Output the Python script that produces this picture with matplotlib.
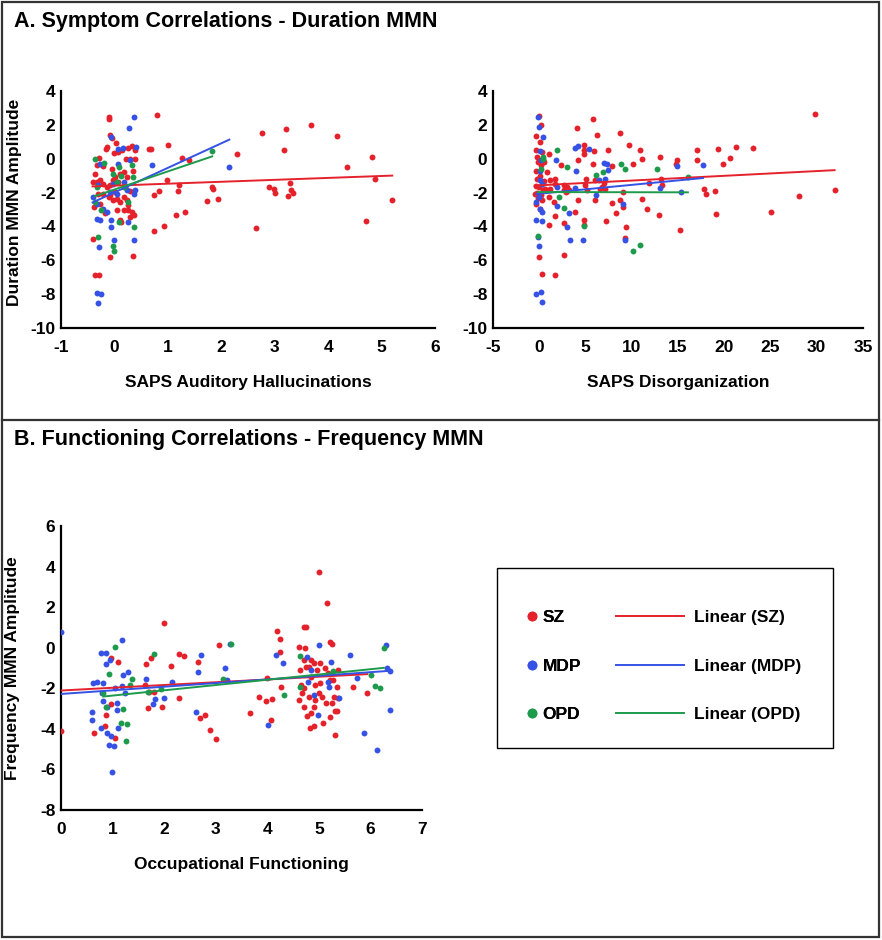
import numpy as np
import matplotlib
matplotlib.use('Agg')
import matplotlib.pyplot as plt
from matplotlib.lines import Line2D
from matplotlib.patches import Rectangle

plt.rcParams['font.family'] = ['Liberation Sans', 'DejaVu Sans']
plt.rcParams['font.weight'] = 'bold'

groups = ['SZ', 'MDP', 'OPD']
colors = {'SZ': '#e5212b', 'MDP': '#3552e4', 'OPD': '#1e9a4c'}

# ---- A, left: SAPS auditory hallucinations vs duration MMN
aud_sz = [(-0.10, 2.46), (-0.10, 2.33), (-0.08, 1.38), (-0.04, 1.24), (0.03, 0.92), (-0.16, 0.59),
          (-0.13, 0.67), (-0.01, 0.33), (0.06, 0.40), (0.14, 0.50), (0.26, 0.65), (0.32, 0.77),
          (0.38, 0.50), (-0.33, -0.35), (-0.28, 0.05), (-0.36, -0.88), (-0.27, -1.27), (-0.41, -1.37),
          (-0.32, -1.37), (-0.21, -1.47), (-0.14, -1.67), (-0.08, -1.57), (-0.02, -1.27), (0.01, -1.08),
          (0.06, -1.37), (0.11, -0.88), (0.18, -0.78), (0.23, -1.08), (0.21, 0.0), (0.29, 0.0),
          (0.38, 0.0), (-0.30, -2.06), (-0.21, -2.06), (-0.11, -2.26), (-0.02, -2.46), (0.04, -2.36),
          (0.11, -2.56), (0.17, -2.26), (0.23, -2.46), (0.26, -2.75), (-0.39, -2.85), (-0.27, -2.65),
          (-0.08, -2.16), (0.01, -1.96), (0.17, -3.05), (0.26, -3.05), (0.32, -3.15), (0.36, -3.34),
          (0.29, -3.44), (0.11, -3.64), (0.12, -3.74), (-0.40, -4.72), (-0.09, -5.82), (0.34, -5.72),
          (-0.36, -6.89), (-0.28, -6.85), (-0.22, -0.45), (0.35, -0.70), (-0.05, -0.60), (0.20, -1.70),
          (0.30, -1.90), (-0.18, -3.20), (0.05, -3.00),
          (0.79, 2.6), (0.65, 0.55), (0.69, 0.6), (1.01, 0.8), (0.98, -1.24), (0.84, -1.9),
          (0.74, -2.15), (1.2, -1.55), (1.19, -1.9), (1.26, 0.02), (1.40, -0.1), (1.15, -3.3),
          (1.32, -3.15), (0.93, -3.95), (0.74, -4.25), (1.82, -1.67), (1.85, -1.8), (1.74, -2.48),
          (1.93, -2.4), (2.30, 0.28), (2.77, 1.5), (2.65, -4.1), (3.21, 1.78), (3.18, 0.52),
          (3.67, 1.97), (4.16, 1.36), (4.36, -0.49), (4.83, 0.1), (4.88, -1.18), (5.2, -2.44),
          (4.70, -3.7), (2.90, -1.67), (2.98, -1.77), (3.0, -2.02), (3.28, -1.43), (3.31, -1.83),
          (3.35, -2.02), (3.24, -2.2)]
aud_mdp = [(0.37, 2.46), (0.27, 1.81), (-0.06, 1.28), (0.07, 0.59), (0.16, 0.61), (0.40, 0.69),
           (-0.27, -0.29), (0.07, -0.29), (0.29, -0.10), (-0.41, -2.26), (-0.33, -2.65), (-0.21, -2.95),
           (-0.14, -3.15), (-0.30, -1.57), (-0.02, -1.47), (0.17, -1.37), (0.23, -1.87), (0.36, -2.06),
           (0.39, -1.87), (-0.08, -1.96), (-0.33, -3.54), (-0.27, -3.64), (-0.06, -4.05), (-0.07, -3.64),
           (0.26, -3.74), (-0.01, -4.78), (0.37, -4.82), (-0.29, -5.22), (-0.33, -7.93), (-0.25, -8.01),
           (-0.30, -8.5), (0.04, -2.06), (0.71, -0.35), (2.15, -0.49)]
aud_opd = [(-0.37, -0.04), (-0.19, -0.25), (-0.32, -1.67), (-0.36, -2.56), (-0.25, -3.0), (-0.02, -0.88),
           (0.09, -0.49), (0.12, -1.04), (0.26, -2.56), (0.32, -0.39), (0.34, -1.08), (0.37, -4.03),
           (-0.31, -4.62), (-0.02, -5.15), (-0.01, -5.45), (0.09, -3.74), (0.04, -1.37), (0.17, -1.67),
           (1.83, 0.45)]
aud_fit = {'SZ': (0.114, -1.59), 'MDP': (1.45, -1.99), 'OPD': (1.07, -1.82)}

# ---- A, right: SAPS disorganization vs duration MMN
dis_sz = [(0.0, 2.5), (0.2, 1.97), (-0.3, 1.37), (0.1, 0.99), (-0.4, 0.53), (0.3, 0.4), (-0.2, 0.1),
          (0.4, -0.1), (-0.1, -0.2), (0.2, -0.4), (-0.3, -0.7), (0.1, -1.0), (-0.2, -1.2), (0.3, -1.4),
          (-0.4, -1.6), (0.0, -1.7), (0.4, -1.87), (-0.2, -2.0), (0.2, -2.15), (-0.1, -2.3), (0.3, -2.45),
          (-0.3, -2.65), (0.1, -2.95), (0.0, -5.8), (0.3, -6.8), (0.6, -1.8), (-0.5, -2.1), (0.5, -1.3),
          (1.08, 0.3), (0.47, -0.19), (0.83, -0.78), (1.73, -1.18), (1.19, -1.28), (1.73, -1.47),
          (1.19, -1.77), (1.0, -2.26), (1.55, -2.56), (1.73, -3.4), (1.0, -3.9), (1.73, -6.85),
          (2.38, -0.35), (2.7, -1.57), (3.0, -1.67), (2.63, -1.87), (2.92, -1.96), (3.24, -1.83),
          (2.63, -3.8), (2.63, -5.7), (3.82, -3.15), (4.11, 1.81), (4.22, -0.06), (4.8, 0.53),
          (4.8, 0.8), (4.83, 0.26), (4.14, -2.45), (4.8, -3.64), (4.8, -3.94), (5.05, -1.18),
          (4.97, -1.57), (5.15, -1.87), (5.8, 2.37), (6.24, 1.38), (5.95, 0.45), (5.77, -0.33),
          (6.05, -1.28), (6.05, -2.46), (6.52, -1.79), (6.95, -1.43), (7.13, -1.77), (7.42, 0.5),
          (6.77, -1.67), (7.24, -3.7), (7.86, -2.6), (7.86, -0.43), (8.29, -3.2), (8.68, 1.52),
          (8.76, -2.46), (9.05, -2.85), (9.05, -1.96), (9.33, -4.03), (9.22, -4.68), (9.66, 0.83),
          (10.13, -0.29), (10.92, 0.5), (11.1, 0.0), (11.1, -2.36), (11.64, -2.95), (11.9, -1.43),
          (12.9, -3.3), (13.08, 0.1), (13.15, -1.18), (13.26, -1.53), (14.88, -0.05), (14.81, -0.33),
          (15.17, -4.23), (17.04, 0.53), (17.04, -0.06), (17.77, -1.77), (18.05, -2.06), (19.03, -1.9),
          (19.14, -3.24), (19.32, 0.6), (19.86, -0.29), (20.65, 0.06), (21.3, 0.69), (23.06, 0.65),
          (25.08, -3.15), (28.04, -2.2), (29.84, 2.62), (31.93, -1.87)]
dis_mdp = [(-0.1, 2.46), (0.0, 1.87), (0.4, 1.28), (0.1, 0.44), (0.2, -0.1), (0.1, -0.7), (0.1, -1.28),
           (0.3, -1.5), (0.0, -2.26), (-0.3, -2.56), (0.1, -2.95), (0.3, -3.15), (-0.3, -3.6),
           (0.3, -3.68), (-0.1, -4.62), (0.0, -5.17), (-0.3, -7.97), (0.2, -7.87), (0.3, -8.46),
           (1.84, -0.1), (1.91, -1.67), (1.91, -2.79), (3.17, -3.18), (3.0, -4.03), (3.35, -4.78),
           (3.89, 0.64), (4.18, 0.73), (5.33, 0.59), (4.0, -0.74), (3.89, -1.71), (4.72, -4.78),
           (6.13, -2.16), (6.41, -1.28), (7.03, -0.26), (7.06, -1.18), (7.3, -0.3), (7.39, -0.65),
           (9.05, -2.69), (9.3, -4.82), (13.08, -1.73), (14.88, -0.45), (15.35, -1.96), (17.7, -0.35)]
dis_opd = [(0.36, -0.04), (0.2, -0.6), (0.4, 0.1), (1.87, 0.5), (2.99, -0.49), (2.09, -2.26),
           (2.63, -2.91), (4.8, -3.98), (-0.14, -4.58), (6.16, -0.94), (6.85, -0.79), (8.86, -0.33),
           (9.22, -0.63), (10.13, -5.44), (10.85, -5.11), (12.72, -0.63), (16.07, -1.08)]
dis_fit = {'SZ': (0.028, -1.57), 'MDP': (0.0525, -2.07), 'OPD': (-0.001, -1.97)}

# ---- B: occupational functioning vs frequency MMN
occ_sz = [(0.0, -4.13), (0.64, -4.21), (0.87, -3.31), (0.85, -3.85), (0.97, -2.77), (1.04, -4.46),
          (0.97, -0.52), (1.10, -0.72), (1.64, -0.81), (1.63, -1.83), (1.68, -2.98), (1.74, -0.49),
          (1.71, -2.16), (1.80, -2.16), (1.99, 1.24), (1.95, -2.9), (2.13, -0.9), (2.28, -0.29),
          (2.39, -0.4), (2.28, -2.49), (2.65, -0.7), (2.69, -3.47), (2.8, -3.33), (2.88, -4.08),
          (3.0, -4.51), (3.06, 0.14), (3.67, -3.22), (3.83, -2.45), (3.97, -2.62), (4.0, -1.47),
          (4.08, -3.56), (4.1, -2.52), (4.19, 0.81), (4.24, 0.42), (4.25, -0.21), (4.27, -1.92),
          (5.01, 3.75), (5.16, 2.19), (4.72, 1.01), (4.75, 1.04), (4.62, 0.02), (4.74, 0.0),
          (5.22, 0.3), (5.26, 0.19), (5.66, -1.92), (5.94, -2.24),
          (4.63, -1.09), (4.71, -0.6), (4.76, -0.97), (4.8, -0.97), (4.85, -0.6), (4.9, -0.77),
          (4.96, -1.09), (5.03, -0.77), (5.11, -1.01), (5.18, -1.26), (5.28, -1.59), (5.35, -1.92),
          (5.38, -1.09), (4.66, -1.84), (4.72, -2.0), (4.67, -2.24), (4.62, -2.57), (4.71, -2.9),
          (4.77, -3.39), (4.84, -3.23), (4.9, -2.9), (4.8, -2.41), (4.92, -2.57), (5.0, -2.24),
          (5.06, -2.41), (5.13, -2.74), (5.08, -3.69), (4.83, -3.98), (4.9, -3.84), (5.21, -3.44),
          (5.26, -2.74), (5.29, -2.41), (5.32, -3.1), (5.35, -3.1), (5.32, -4.3), (5.38, -2.49),
          (5.22, -1.59), (4.93, -1.83), (4.84, -1.42), (5.03, -1.75)]
occ_mdp = [(0.0, 0.76), (0.63, -1.72), (0.69, -1.67), (0.61, -3.15), (0.61, -3.56), (0.77, -0.27),
           (0.87, -0.27), (0.87, -0.8), (0.95, -0.6), (0.82, -1.75), (0.79, -2.24), (0.82, -2.65),
           (0.9, -2.9), (0.78, -3.97), (0.89, -4.18), (0.97, -4.34), (0.94, -4.79), (1.02, -4.84),
           (0.99, -6.15), (1.05, -2.0), (1.08, -2.74), (1.09, -3.06), (1.11, -3.97), (1.19, 0.38),
           (1.2, -1.34), (1.29, -1.21), (1.24, -2.24), (1.18, -1.88), (1.64, -1.55), (1.79, -2.77),
           (1.82, -2.54), (2.0, -2.46), (2.15, -1.67), (2.65, -1.18), (2.72, -0.37), (2.62, -3.18),
           (3.18, -1.01), (3.22, -1.59), (3.27, 0.19), (4.16, -0.35), (4.3, -0.73), (4.02, -3.79),
           (4.77, -0.47), (4.78, -1.69), (4.85, -1.09), (5.01, 0.15), (4.98, -3.31), (4.9, -2.32),
           (5.18, -1.69), (5.19, -1.92), (5.24, -0.72), (5.4, -2.46), (5.61, -0.35), (5.74, -1.47),
           (5.87, -4.21), (6.13, -5.03), (6.31, 0.14), (6.32, -1.01), (6.37, -1.13), (6.37, -3.06)]
occ_opd = [(1.04, 0.02), (0.93, -1.31), (0.82, -2.24), (0.87, -2.9), (1.2, -3.03), (1.16, -3.72),
           (1.28, -3.77), (1.26, -4.62), (1.37, -1.54), (1.33, -1.83), (1.81, -0.32), (1.69, -2.16),
           (1.94, -2.05), (3.15, -1.54), (3.3, 0.17), (4.63, -0.39), (4.63, -1.96), (4.32, -2.32),
           (5.27, -1.13), (6.01, -1.34), (6.08, -1.87), (6.19, -2.0), (6.26, -0.03)]
occ_fit = {'SZ': (0.136, -2.11), 'MDP': (0.179, -2.28), 'OPD': (0.26, -2.62)}

W, H = 882, 940


def px_axes(fig, x0, y0, x1, y1):
    return fig.add_axes([x0 / W, 1 - y1 / H, (x1 - x0) / W, (y1 - y0) / H])


def scatter_panel(ax, data, fits, xlim, ylim, xticks, yticks, xlabel):
    for g in groups:
        pts = np.array(data[g])
        ax.scatter(pts[:, 0], pts[:, 1], s=18, color=colors[g], linewidths=0, zorder=3)
    for g in groups:
        pts = np.array(data[g])
        slope, icpt = fits[g]
        xs = np.array([pts[:, 0].min(), pts[:, 0].max()])
        ax.plot(xs, slope * xs + icpt, color=colors[g], lw=1.4, zorder=4)
    ax.set_xlim(xlim)
    ax.set_ylim(ylim)
    ax.set_xticks(xticks)
    ax.set_yticks(yticks)
    ax.set_xticklabels([str(t) for t in xticks])
    ax.set_yticklabels([str(t) for t in yticks])
    for s in ['top', 'right']:
        ax.spines[s].set_visible(False)
    for s in ['left', 'bottom']:
        ax.spines[s].set_linewidth(1.6)
        ax.spines[s].set_color('black')
    ax.tick_params(axis='x', length=0, pad=9, labelsize=12.5)
    ax.tick_params(axis='y', length=0, pad=4, labelsize=12.5)
    for lab in ax.get_xticklabels() + ax.get_yticklabels():
        lab.set_fontweight('bold')
    ax.set_xlabel(xlabel, fontsize=12.5, fontweight='bold', labelpad=14)
    ax.patch.set_alpha(0)


fig = plt.figure(figsize=(W / 100, H / 100), dpi=100)

ax1 = px_axes(fig, 61, 91, 435, 328)
scatter_panel(ax1, {'SZ': aud_sz, 'MDP': aud_mdp, 'OPD': aud_opd}, aud_fit,
              (-1, 6), (-10, 4), list(range(-1, 7)), list(range(-10, 5, 2)),
              'SAPS Auditory Hallucinations')
ax1.set_ylabel('Duration MMN Amplitude', fontsize=12.5, fontweight='bold')
ax1.yaxis.set_label_coords(-0.105, 0.53)

ax2 = px_axes(fig, 493, 91, 863, 328)
scatter_panel(ax2, {'SZ': dis_sz, 'MDP': dis_mdp, 'OPD': dis_opd}, dis_fit,
              (-5, 35), (-10, 4), list(range(-5, 36, 5)), list(range(-10, 5, 2)),
              'SAPS Disorganization')

ax3 = px_axes(fig, 61, 526, 422, 810)
scatter_panel(ax3, {'SZ': occ_sz, 'MDP': occ_mdp, 'OPD': occ_opd}, occ_fit,
              (0, 7), (-8, 6), list(range(0, 8)), list(range(-8, 7, 2)),
              'Occupational Functioning')
ax3.set_ylabel('Frequency MMN Amplitude', fontsize=12.5, fontweight='bold')
ax3.yaxis.set_label_coords(-0.113, 0.5)

# panel titles
fig.text(14 / W, 1 - 21 / H, 'A. Symptom Correlations - Duration MMN', fontsize=15.5,
         fontweight='bold', va='center', ha='left')
fig.text(14 / W, 1 - 440 / H, 'B. Functioning Correlations - Frequency MMN', fontsize=15.5,
         fontweight='bold', va='center', ha='left')

# outer frame and divider
fig.add_artist(Rectangle((2 / W, 1 - 937 / H), 877 / W, 935 / H, transform=fig.transFigure,
                         fill=False, edgecolor='#333333', lw=1.6))
fig.add_artist(Line2D([2 / W, 879 / W], [1 - 420 / H, 1 - 420 / H], transform=fig.transFigure,
                      color='#333333', lw=1.6))

# legend box
fig.add_artist(Rectangle((497 / W, 1 - 748 / H), 336 / W, 180 / H, transform=fig.transFigure,
                         fill=False, edgecolor='black', lw=1.0))
dot_handles = [Line2D([], [], ls='none', marker='o', ms=6, color=colors[g]) for g in groups]
line_handles = [Line2D([], [], color=colors[g], lw=1.4) for g in groups]
leg1 = fig.legend(dot_handles, groups, loc='upper left', bbox_to_anchor=(527 / W, 1 - 610 / H),
                  frameon=False, handlelength=0.6, handletextpad=0.3,
                  labelspacing=1.92, borderpad=0, borderaxespad=0, prop={'weight': 'bold', 'size': 12.5})
fig.add_artist(leg1)
fig.legend(line_handles, ['Linear (' + g + ')' for g in groups], loc='upper left',
           bbox_to_anchor=(616 / W, 1 - 610 / H), frameon=False, handlelength=3.9,
           handletextpad=0.6, labelspacing=1.92, borderpad=0, borderaxespad=0,
           prop={'weight': 'bold', 'size': 12.5})

fig.savefig('out.png', dpi=100)
